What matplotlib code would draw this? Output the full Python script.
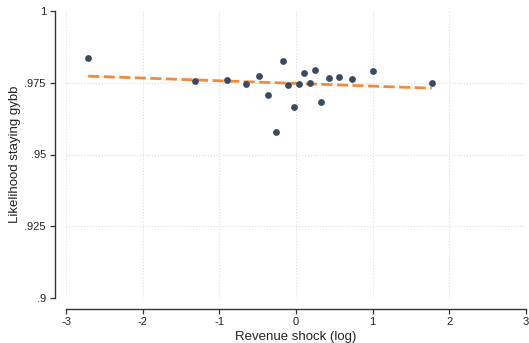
import numpy as np
import matplotlib
matplotlib.use('Agg')
from matplotlib import pyplot as plt

# binned means
shock = [-2.711, -1.323, -0.905, -0.657, -0.487, -0.361, -0.261, -0.174, -0.100, -0.026,
         0.039, 0.109, 0.183, 0.252, 0.331, 0.435, 0.566, 0.735, 1.010, 1.771]
stay = [0.9835, 0.9756, 0.9759, 0.9747, 0.9772, 0.9709, 0.9577, 0.9826, 0.9741, 0.9666,
        0.9745, 0.9785, 0.9748, 0.9794, 0.9683, 0.9765, 0.9769, 0.9763, 0.9790, 0.9750]

# fitted line end points
fit_x = [-2.711, 1.771]
fit_y = [0.9773, 0.9731]

xticks = [-3, -2, -1, 0, 1, 2, 3]
yticks = [0.9, 0.925, 0.95, 0.975, 1.0]
ylabels = ['.9', '.925', '.95', '.975', '1']

plt.rcParams['font.family'] = ['Liberation Sans', 'DejaVu Sans']

fig = plt.figure(figsize=(5.29, 3.43), dpi=100)
ax = fig.add_axes([66/529, 1-298/343, 460/529, 287/343])

for x in xticks:
    ax.axvline(x, color='#dddddd', linestyle=':', lw=0.8, zorder=0)
for y in yticks[1:-1]:
    ax.axhline(y, color='#dddddd', linestyle=':', lw=0.8, zorder=0)

ax.plot(fit_x, fit_y, color='#f28a3c', linestyle=(0, (4, 1.6)), lw=2.0, zorder=2)
ax.scatter(shock, stay, s=24, color='#3a4a63', zorder=3, linewidths=0)

ax.set_xlim(-3, 3)
ax.set_ylim(0.9, 1.0)
ax.set_xticks(xticks)
ax.set_xticklabels([str(t) for t in xticks])
ax.set_yticks(yticks)
ax.set_yticklabels(ylabels)

for s in ['top', 'right']:
    ax.spines[s].set_visible(False)
for s in ['left', 'bottom']:
    ax.spines[s].set_position(('outward', 8))
    ax.spines[s].set_color('#333333')
    ax.spines[s].set_linewidth(1.0)
ax.tick_params(axis='both', labelsize=8, length=3.5, width=0.9, color='#333333', labelcolor='#222222')
ax.tick_params(axis='x', pad=2)
ax.tick_params(axis='y', pad=3)

ax.set_xlabel('Revenue shock (log)', fontsize=9.5, color='#222222')
ax.set_ylabel('Likelihood staying gybb', fontsize=9.5, color='#222222')
ax.xaxis.set_label_coords(0.5, -0.115)
ax.yaxis.set_label_coords(-0.098, 0.5)

fig.savefig('out.png', dpi=100)
